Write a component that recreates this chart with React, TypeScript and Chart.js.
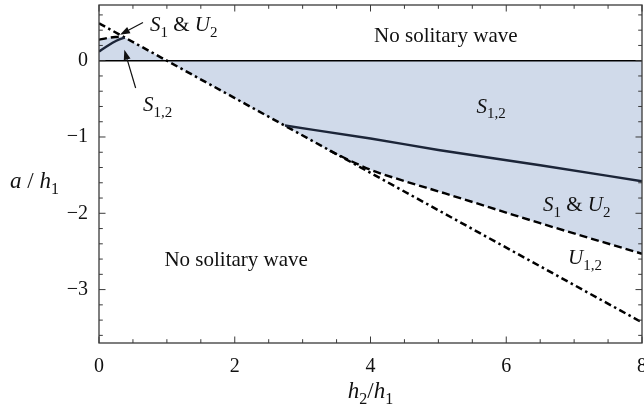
import React, { useEffect, useRef } from "react";
import { Chart, registerables } from "chart.js";

Chart.register(...registerables);

// ---- axis ranges and ticks ----
const X_MIN = 0;
const X_MAX = 8;
const Y_MIN = -3.7;
const Y_MAX = 0.73;
const xMajorTicks = [0, 2, 4, 6, 8];
const xMinorTicks = [0.5, 1, 1.5, 2.5, 3, 3.5, 4.5, 5, 5.5, 6.5, 7, 7.5];
const yMajorTicks = [-3, -2, -1, 0];
const yMinorTicks = [-3.6, -3.4, -3.2, -2.8, -2.6, -2.4, -2.2, -1.8, -1.6, -1.4, -1.2, -0.8, -0.6, -0.4, -0.2, 0.2, 0.4, 0.6];

// ---- series ----
// U_{1,2} boundary (dash-dot)
const u12X = [0, 8];
const u12Y = [0.49, -3.43];
// S_1 & U_2 boundary (dashed), left and right pieces
const s1u2LeftX = [0, 0.12, 0.24, 0.35];
const s1u2LeftY = [0.275, 0.296, 0.311, 0.318];
const s1u2RightX = [3.4, 3.7, 4.0, 4.4, 5.1, 6.5, 8];
const s1u2RightY = [-1.18, -1.31, -1.43, -1.55, -1.74, -2.13, -2.53];
// S_{1,2} boundary (solid), left and right pieces
const s12LeftX = [0, 0.1, 0.2, 0.3, 0.38];
const s12LeftY = [0.12, 0.18, 0.235, 0.28, 0.303];
const s12RightX = [2.74, 4, 5, 6.5, 8];
const s12RightY = [-0.85, -1.02, -1.17, -1.37, -1.58];
// zero line
const zeroX = [0, 8];
const zeroY = [0, 0];

type Part = { t: string; it?: boolean; sub?: boolean };
type Label = { x: number; y: number; align: "left" | "center"; parts: Part[] };

const annotations: Label[] = [
  { x: 5.11, y: 0.248, align: "center", parts: [{ t: "No solitary wave" }] },
  { x: 2.02, y: -2.695, align: "center", parts: [{ t: "No solitary wave" }] },
  { x: 0.75, y: 0.383, align: "left", parts: [{ t: "S", it: true }, { t: "1", sub: true }, { t: " & " }, { t: "U", it: true }, { t: "2", sub: true }] },
  { x: 0.648, y: -0.665, align: "left", parts: [{ t: "S", it: true }, { t: "1,2", sub: true }] },
  { x: 5.56, y: -0.68, align: "left", parts: [{ t: "S", it: true }, { t: "1,2", sub: true }] },
  { x: 6.54, y: -1.975, align: "left", parts: [{ t: "S", it: true }, { t: "1", sub: true }, { t: " & " }, { t: "U", it: true }, { t: "2", sub: true }] },
  { x: 6.91, y: -2.67, align: "left", parts: [{ t: "U", it: true }, { t: "1,2", sub: true }] },
];

const arrows = [
  { fromX: 0.648, fromY: 0.501, toX: 0.309, toY: 0.34 },
  { fromX: 0.54, fromY: -0.358, toX: 0.373, toY: 0.143 },
];

const FONT = '"Liberation Serif", "Times New Roman", serif';

function pts(xs: number[], ys: number[]) {
  return xs.map((x, i) => ({ x, y: ys[i] }));
}

function drawRich(ctx: CanvasRenderingContext2D, x: number, y: number, parts: Part[], size: number, align: "left" | "center") {
  const fontFor = (p: Part) => `${p.it ? "italic " : ""}${p.sub ? Math.round(size * 0.7) : size}px ${FONT}`;
  const widths = parts.map((p) => {
    ctx.font = fontFor(p);
    return ctx.measureText(p.t).width;
  });
  const total = widths.reduce((a, b) => a + b, 0);
  let cx = align === "center" ? x - total / 2 : x;
  ctx.textAlign = "left";
  ctx.textBaseline = "alphabetic";
  parts.forEach((p, i) => {
    ctx.font = fontFor(p);
    ctx.fillText(p.t, cx, p.sub ? y + size * 0.27 : y);
    cx += widths[i];
  });
}

const framePlugin = {
  id: "framePlugin",
  afterDraw(chart: any) {
    const ctx: CanvasRenderingContext2D = chart.ctx;
    const xs = chart.scales.x;
    const ys = chart.scales.y;
    const { left, right, top, bottom } = chart.chartArea;
    ctx.save();
    // frame
    ctx.strokeStyle = "#3a3a3a";
    ctx.lineWidth = 1.3;
    ctx.strokeRect(left, top, right - left, bottom - top);
    // ticks (inward, on all four sides)
    ctx.beginPath();
    const tick = (v: number, len: number) => {
      const px = xs.getPixelForValue(v);
      ctx.moveTo(px, bottom);
      ctx.lineTo(px, bottom - len);
      ctx.moveTo(px, top);
      ctx.lineTo(px, top + len);
    };
    const ytick = (v: number, len: number) => {
      const py = ys.getPixelForValue(v);
      ctx.moveTo(left, py);
      ctx.lineTo(left + len, py);
      ctx.moveTo(right, py);
      ctx.lineTo(right - len, py);
    };
    xMajorTicks.forEach((v) => tick(v, 6.5));
    xMinorTicks.forEach((v) => tick(v, 3.8));
    yMajorTicks.forEach((v) => ytick(v, 6.5));
    yMinorTicks.forEach((v) => ytick(v, 3.8));
    ctx.lineWidth = 1;
    ctx.stroke();

    // annotations
    ctx.fillStyle = "#111";
    annotations.forEach((a) => {
      drawRich(ctx, xs.getPixelForValue(a.x), ys.getPixelForValue(a.y), a.parts, 21, a.align);
    });

    // arrows
    ctx.strokeStyle = "#111";
    ctx.lineWidth = 1.2;
    arrows.forEach((a) => {
      const x1 = xs.getPixelForValue(a.fromX);
      const y1 = ys.getPixelForValue(a.fromY);
      const x2 = xs.getPixelForValue(a.toX);
      const y2 = ys.getPixelForValue(a.toY);
      const ang = Math.atan2(y2 - y1, x2 - x1);
      const hl = 10;
      const hw = 3.5;
      const bx = x2 - hl * Math.cos(ang);
      const by = y2 - hl * Math.sin(ang);
      ctx.beginPath();
      ctx.moveTo(x1, y1);
      ctx.lineTo(bx, by);
      ctx.stroke();
      ctx.beginPath();
      ctx.moveTo(x2, y2);
      ctx.lineTo(bx + hw * Math.sin(ang), by - hw * Math.cos(ang));
      ctx.lineTo(bx - hw * Math.sin(ang), by + hw * Math.cos(ang));
      ctx.closePath();
      ctx.fill();
    });

    // axis titles
    drawRich(ctx, 10, 188, [{ t: "a", it: true }, { t: " / " }, { t: "h", it: true }, { t: "1", sub: true }], 23, "left");
    drawRich(ctx, (left + right) / 2, 398, [{ t: "h", it: true }, { t: "2", sub: true }, { t: "/" }, { t: "h", it: true }, { t: "1", sub: true }], 23, "center");
    ctx.restore();
  },
};

const zeroPad = (s: any) => {
  s.paddingTop = 0;
  s.paddingBottom = 0;
  s.paddingLeft = 0;
  s.paddingRight = 0;
};

export default function App() {
  const ref = useRef<HTMLCanvasElement | null>(null);
  useEffect(() => {
    document.body.style.margin = "0";
    if (!ref.current) return;
    const curve = { showLine: true, pointRadius: 0, fill: false, order: 1, cubicInterpolationMode: "monotone" as const };
    const straight = { showLine: true, pointRadius: 0, fill: false, order: 1, tension: 0 };
    const chart = new Chart(ref.current, {
      type: "scatter",
      data: {
        datasets: [
          {
            ...straight,
            order: 10,
            data: pts([...s1u2LeftX, ...s1u2RightX], [...s1u2LeftY, ...s1u2RightY]),
            borderWidth: 0,
            borderColor: "rgba(0,0,0,0)",
            backgroundColor: "rgb(208,218,234)",
            fill: "origin",
          } as any,
          { ...straight, data: pts(zeroX, zeroY), borderColor: "#000", borderWidth: 1.6 },
          { ...curve, data: pts(s12LeftX, s12LeftY), borderColor: "#1c2538", borderWidth: 2.4 },
          { ...curve, data: pts(s12RightX, s12RightY), borderColor: "#1c2538", borderWidth: 2.4 },
          { ...curve, data: pts(s1u2LeftX, s1u2LeftY), borderColor: "#000", borderWidth: 2.4, borderDash: [8, 4] },
          { ...curve, data: pts(s1u2RightX, s1u2RightY), borderColor: "#000", borderWidth: 2.4, borderDash: [8, 4] },
          { ...straight, data: pts(u12X, u12Y), borderColor: "#000", borderWidth: 2.5, borderDash: [7, 3.5, 2.5, 3.5] },
        ],
      },
      options: {
        animation: false,
        responsive: false,
        maintainAspectRatio: false,
        layout: { padding: { top: 5, right: 2, left: 0, bottom: 0 } },
        plugins: { legend: { display: false }, tooltip: { enabled: false } },
        scales: {
          x: {
            type: "linear",
            min: X_MIN,
            max: X_MAX,
            grid: { display: false, drawTicks: false },
            border: { display: false },
            ticks: {
              stepSize: 2,
              includeBounds: false,
              padding: 12,
              color: "#111",
              font: { family: FONT, size: 20 },
            },
            afterFit: (s: any) => {
              s.height = 67;
              zeroPad(s);
            },
          },
          y: {
            type: "linear",
            min: Y_MIN,
            max: Y_MAX,
            grid: { display: false, drawTicks: false },
            border: { display: false },
            ticks: {
              stepSize: 1,
              includeBounds: false,
              padding: 11,
              color: "#111",
              font: { family: FONT, size: 20 },
              callback: (v: any) => String(v).replace("-", "\u2212"),
            },
            afterFit: (s: any) => {
              s.width = 99;
              zeroPad(s);
            },
          },
        },
      },
      plugins: [framePlugin],
    });
    return () => chart.destroy();
  }, []);
  return (
    <div style={{ width: 644, height: 410, background: "#fff" }}>
      <canvas ref={ref} width={644} height={410} style={{ width: 644, height: 410, display: "block" }} />
    </div>
  );
}
